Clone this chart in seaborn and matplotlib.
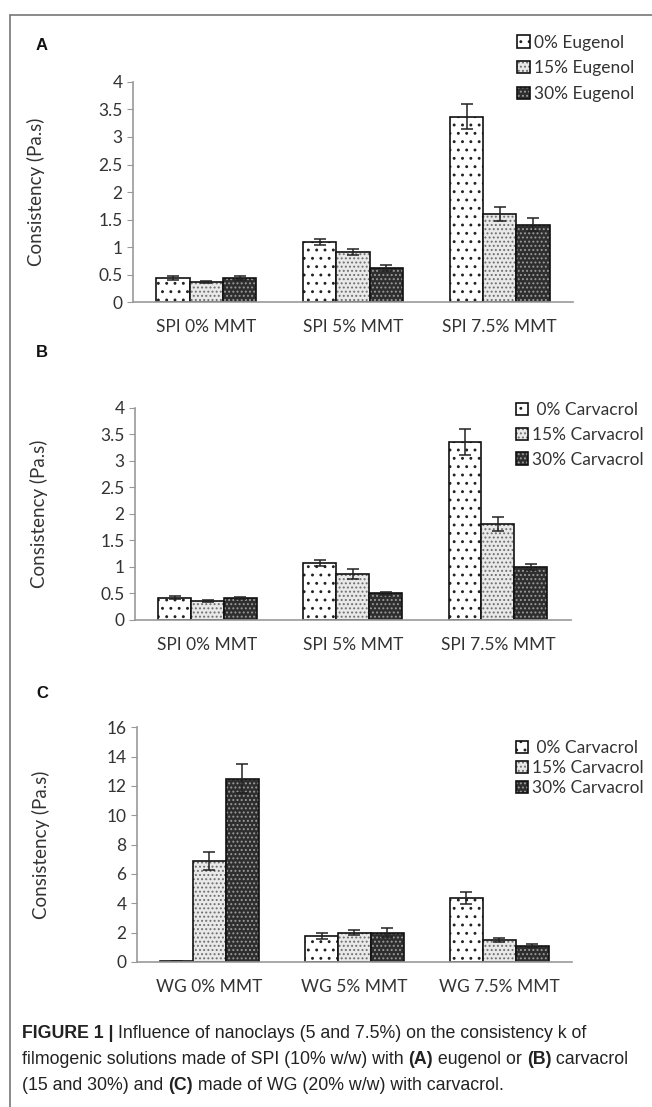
import pandas as pd
import matplotlib.pyplot as plt
import seaborn as sns
from matplotlib.patches import Patch
from matplotlib.lines import Line2D
from matplotlib.colors import to_rgba

# panel A - SPI with eugenol
spi_groups = ["SPI 0% MMT", "SPI 5% MMT", "SPI 7.5% MMT"]
eug_levels = ["0% Eugenol", "15% Eugenol", "30% Eugenol"]
eug_vals = [[0.44, 1.09, 3.37], [0.37, 0.91, 1.60], [0.44, 0.62, 1.41]]
eug_err = [[0.03, 0.06, 0.22], [0.02, 0.05, 0.12], [0.03, 0.06, 0.12]]

# panel B - SPI with carvacrol
car_levels = [" 0% Carvacrol", "15% Carvacrol", "30% Carvacrol"]
car_vals = [[0.42, 1.08, 3.36], [0.36, 0.87, 1.81], [0.42, 0.50, 1.00]]
car_err = [[0.03, 0.06, 0.25], [0.02, 0.10, 0.13], [0.02, 0.03, 0.05]]

# panel C - WG with carvacrol
wg_groups = ["WG 0% MMT", "WG 5% MMT", "WG 7.5% MMT"]
wg_vals = [[0.05, 1.75, 4.35], [6.9, 2.0, 1.5], [12.5, 2.0, 1.1]]
wg_err = [[0.0, 0.20, 0.40], [0.6, 0.15, 0.15], [1.0, 0.30, 0.10]]

sns.set_style("white")
plt.rcParams["font.family"] = ["Lato", "DejaVu Sans"]
plt.rcParams["hatch.linewidth"] = 0.9

faces = ["white", "#e9e9e9", "#2e2e2e"]
hatches = ["..", "....", "...."]
hatch_cols = ["#222222", "#6f6f6f", "#9a9a9a"]
txt = "#333333"


def style_patch(p, i):
    p.set_facecolor(faces[i])
    p.set_edgecolor("#111111")
    p.set_linewidth(1.2)
    p.set_hatch(hatches[i])
    p._hatch_color = to_rgba(hatch_cols[i])


def panel(rect, groups, levels, vals, errs, ymax, ystep, letter_xy, letter, leg_xy, leg_space):
    ax = fig.add_axes(rect)
    df = pd.DataFrame({
        "group": [g for lv in levels for g in groups],
        "level": [lv for lv in levels for g in groups],
        "value": [v for row in vals for v in row],
    })
    sns.barplot(data=df, x="group", y="value", hue="level", order=groups,
                hue_order=levels, errorbar=None, width=0.68, legend=False, ax=ax)
    bar_conts = list(ax.containers)
    for i, cont in enumerate(bar_conts):
        xs, ys = [], []
        for bar in cont:
            style_patch(bar, i)
            xs.append(bar.get_x() + bar.get_width() / 2)
            ys.append(bar.get_height())
        ax.errorbar(xs, ys, yerr=errs[i], fmt="none", ecolor="#222222",
                    elinewidth=1.1, capsize=4, capthick=1.1)
    ax.set_ylim(0, ymax)
    ax.set_yticks([k * ystep for k in range(int(ymax / ystep) + 1)])
    ax.set_yticklabels([("%g" % (k * ystep)) for k in range(int(ymax / ystep) + 1)])
    ax.set_xlim(-0.5, 2.5)
    ax.set_xticks([-0.5, 0.5, 1.5, 2.5], minor=True)
    ax.tick_params(axis="x", which="major", length=0, pad=12, labelsize=12.5, labelcolor=txt)
    ax.tick_params(axis="x", which="minor", length=5, color="#999999", direction="out")
    ax.tick_params(axis="y", length=4, color="#999999", direction="out", labelsize=12.5,
                   labelcolor=txt, left=True)
    sns.despine(ax=ax)
    for s in ["left", "bottom"]:
        ax.spines[s].set_color("#999999")
        ax.spines[s].set_linewidth(1.2)
    ax.set_xlabel("")
    ax.set_ylabel("Consistency (Pa.s)", fontsize=13.5, color=txt)
    ax.yaxis.set_label_coords(-0.2, 0.5)

    handles = [Patch(label=levels[i]) for i in range(3)]
    leg = fig.legend(handles=handles, loc="upper left", bbox_to_anchor=leg_xy, frameon=False,
                     fontsize=12.5, labelcolor=txt, handlelength=0.7, handleheight=0.7,
                     handletextpad=0.25, labelspacing=leg_space, borderaxespad=0)
    for i, p in enumerate(leg.get_patches()):
        style_patch(p, i)
    fig.text(letter_xy[0] / 652, 1 - letter_xy[1] / 1107, letter, fontsize=12,
             fontweight="bold", family="Liberation Sans", color="#111111",
             ha="center", va="center")
    return ax


fig = plt.figure(figsize=(6.52, 11.07), dpi=100)

panel([0.204, 0.727, 0.675, 0.199], spi_groups, eug_levels, eug_vals, eug_err, 4, 0.5,
      (42, 45), "A", (0.783, 0.975), 0.55)
panel([0.207, 0.440, 0.668, 0.1915], spi_groups, car_levels, car_vals, car_err, 4, 0.5,
      (42, 353), "B", (0.78, 0.643), 0.5)
panel([0.210, 0.131, 0.667, 0.212], wg_groups, car_levels, wg_vals, wg_err, 16, 2,
      (42, 693), "C", (0.78, 0.3375), 0.22)

# frame lines
fig.add_artist(Line2D([0.0153, 1.0], [0.9864, 0.9864], color="#777777", lw=1.2))
fig.add_artist(Line2D([0.0153, 0.0153], [0.0, 0.9864], color="#777777", lw=1.2))

# caption with bold pieces
cap_lines = [
    [("FIGURE 1 | ", True), ("Influence of nanoclays (5 and 7.5%) on the consistency k of", False)],
    [("filmogenic solutions made of SPI (10% w/w) with ", False), ("(A)", True),
     (" eugenol or ", False), ("(B)", True), (" carvacrol", False)],
    [("(15 and 30%) and ", False), ("(C)", True), (" made of WG (20% w/w) with carvacrol.", False)],
]
fig.canvas.draw()
rend = fig.canvas.get_renderer()
y0 = 1 - 1034 / 1107
for li, parts in enumerate(cap_lines):
    x = 22 / 652
    y = y0 - li * 25.5 / 1107
    for s, bold in parts:
        t = fig.text(x, y, s, fontsize=12.8, family="Liberation Sans", va="center",
                     fontweight="bold" if bold else "normal", color="#222222")
        bb = t.get_window_extent(renderer=rend)
        x += bb.width / fig.bbox.width

fig.savefig("out.png", dpi=100)
